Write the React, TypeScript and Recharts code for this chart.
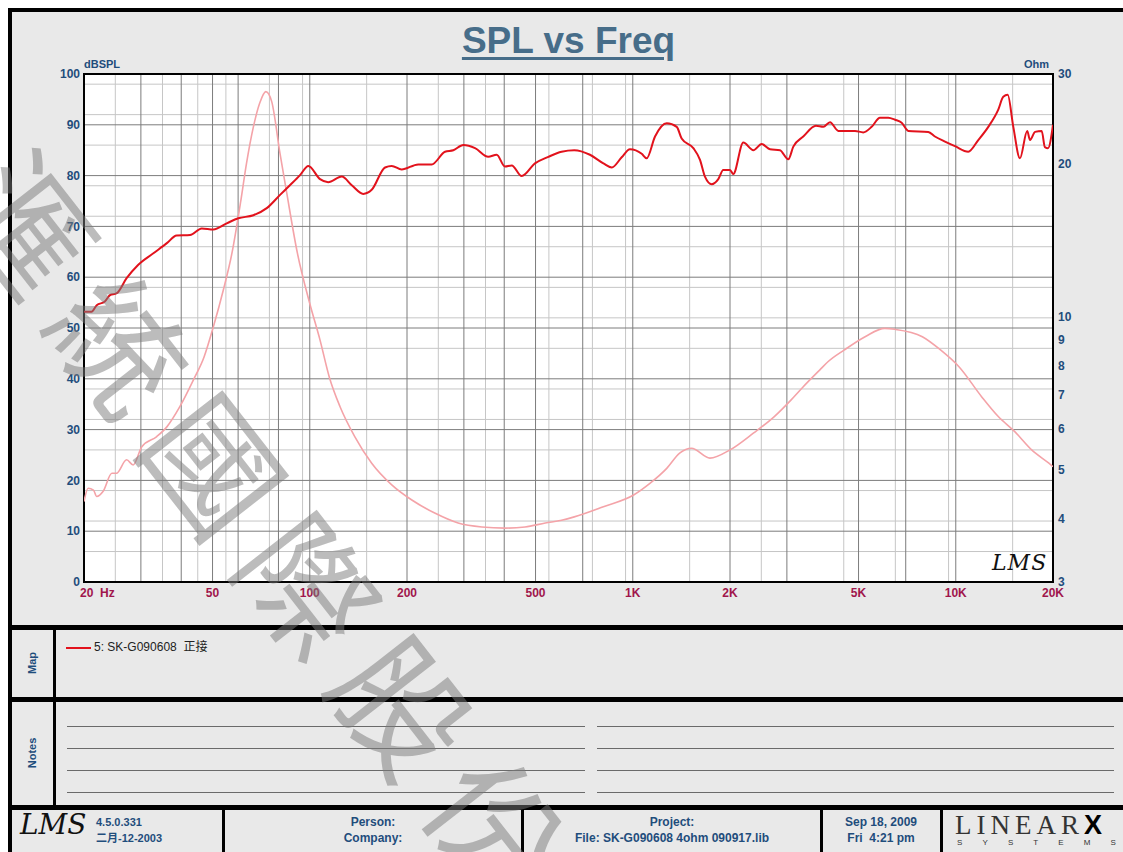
import React from "react";
import { LineChart, Line, XAxis, YAxis, CartesianGrid, ReferenceArea } from "recharts";

// SPL curve (dB)
const splFreq = [
  20, 21.1, 21.9, 23.2, 24.1, 25.2, 27.1, 29.4, 32.8, 36.1, 38.7, 42.6, 46.3, 50.3, 55.3, 60.1, 66.9, 73.6,
  80.9, 86.8, 93.3, 99, 107.6, 114, 125.6, 134.9, 146.4, 155.5, 171, 179.4, 192.5, 216.7, 238.5, 262.3,
  278.2, 298.8, 324.8, 357, 379, 402, 422, 453, 498, 548, 602, 659, 737, 811, 861, 924, 980, 1066, 1104,
  1172, 1274, 1368, 1417, 1540, 1615, 1673, 1756, 1840, 1906, 2000, 2047, 2199, 2362, 2507, 2660, 2856,
  3030, 3141, 3372, 3690, 3890, 4080, 4330, 4876, 5170, 5490, 5826, 6180, 6484, 6800, 7130, 8220, 8620,
  9260, 9940, 10930, 11740, 12610, 13540, 14030, 14480, 15070, 15800, 16640, 16980, 17600, 18450, 18880,
  19300, 20000,
];
const splDb = [
  53.2, 53.2, 54.5, 55.2, 56.5, 56.8, 59.8, 62.4, 64.7, 66.7, 68.2, 68.3, 69.6, 69.4, 70.6, 71.6, 72.2, 73.6,
  76.2, 78.1, 80.1, 81.9, 79.3, 78.7, 79.8, 78.1, 76.4, 77.2, 81.6, 81.9, 81.2, 82.2, 82.2, 84.7,
  85.0, 86.0, 85.4, 83.7, 84.1, 81.8, 82.0, 79.9, 82.4, 83.7, 84.7, 85.0, 84.1, 82.4, 81.6, 83.6, 85.2, 84.3, 83.4,
  87.7, 90.3, 89.6, 87.3, 85.4, 83.1, 79.8, 78.3, 79.3, 81.1, 81.1, 80.3, 86.5, 85.0, 86.2, 85.2, 85.0,
  83.2, 85.7, 87.7, 89.8, 89.6, 90.5, 88.8, 88.8, 88.5, 89.6, 91.4, 91.4, 91.0, 90.4, 88.8, 88.6, 87.7,
  86.7, 85.8, 84.7, 87.0, 89.6, 93.0, 95.5, 95.9, 89.6, 83.4, 88.8, 87.0, 88.6, 88.8, 85.6,
  85.4, 90.0,
];

// impedance curve (Ohm)
const zFreq = [
  20, 20.6, 21.4, 21.9, 22.9, 24.4, 25.2, 27.1, 28.4, 30.2, 33.6, 36.1, 39.6, 43.6, 47.1, 50.3, 54, 57.4,
  61, 63.7, 66.9, 70, 73.1, 76.2, 80.9, 84.6, 91.6, 100, 107.6, 114.9, 124.1, 137.8, 155.5, 179.4, 207,
  243.7, 288, 341, 402, 464, 536, 602, 659, 811, 1006, 1130, 1274, 1397, 1520, 1733, 2000, 2362, 2743,
  3093, 3372, 3790, 4020, 4520, 5240, 6030, 6484, 7880, 8970, 10230, 12020, 13540, 15230, 17180, 19420, 20000,
];
const zOhm = [
  4.32, 4.59, 4.55, 4.42, 4.52, 4.91, 4.91, 5.22, 5.1, 5.54, 5.8, 6.06, 6.64, 7.49, 8.33, 9.54, 11.27, 13.3,
  16.7, 20.0, 23.6, 26.3, 27.7, 26.5, 20.9, 17.7, 13.3, 10.6, 8.98, 7.6, 6.64, 5.8, 5.14, 4.66, 4.35,
  4.1, 3.92, 3.85, 3.83, 3.85, 3.92, 3.97, 4.03, 4.22, 4.45, 4.69, 5.02, 5.38, 5.5, 5.26, 5.46, 5.89, 6.35,
  6.85, 7.27, 7.84, 8.14, 8.59, 9.12, 9.47, 9.43, 9.12, 8.59, 7.96, 6.95, 6.35, 5.93, 5.46, 5.14, 5.06,
];

const freqTicks = [20, 50, 100, 200, 500, 1000, 2000, 5000, 10000, 20000];
const dbTicks = [0, 10, 20, 30, 40, 50, 60, 70, 80, 90, 100];
const ohmTicks = [3, 4, 5, 6, 7, 8, 9, 10, 20, 30];

const splData = splFreq.map((f, i) => ({ f, v: splDb[i] }));
const zData = zFreq.map((f, i) => ({ f, v: zOhm[i] }));

// log grid: whole multiples dark, half steps light
const majorV: number[] = [];
const minorV: number[] = [];
for (const d of [10, 100, 1000, 10000]) {
  for (let k = 1; k <= 9.5; k += 0.5) {
    const f = d * k;
    if (f <= 20 || f >= 20000) continue;
    (k % 1 === 0 ? majorV : minorV).push(f);
  }
}
const majorH: number[] = [];
const minorH: number[] = [];
for (let v = 2; v < 100; v += 2) (v % 10 === 0 ? majorH : minorH).push(v);

const BLUE = "#1f4d7c";
const MAROON = "#a0164c";
const SANS = "'Liberation Sans', Arial, 'Noto Sans CJK TC', sans-serif";

const fmtFreq = (v: number) => (v === 20 ? "20  Hz" : v >= 1000 ? `${v / 1000}K` : `${v}`);

const FreqTick = (props: any) => {
  const { x, y, payload } = props;
  const first = payload.value === 20;
  return (
    <text
      x={first ? x - 4 : x}
      y={y}
      dy="0.71em"
      textAnchor={first ? "start" : "middle"}
      fill={MAROON}
      fontSize={12}
      fontWeight="bold"
      fontFamily={SANS}
      style={{ whiteSpace: "pre" }}
    >
      {fmtFreq(payload.value)}
    </text>
  );
};

const abs = (l: number, t: number, w: number, h: number, extra: React.CSSProperties = {}): React.CSSProperties => ({
  position: "absolute",
  left: l,
  top: t,
  width: w,
  height: h,
  ...extra,
});

const Label = ({ x, y, children, align = "left", size = 12, color = BLUE, bold = true }: any) => (
  <div
    style={{
      position: "absolute",
      left: align === "center" ? x - 200 : x,
      top: y,
      width: align === "center" ? 400 : undefined,
      textAlign: align,
      fontSize: size,
      fontWeight: bold ? "bold" : "normal",
      color,
      fontFamily: SANS,
      whiteSpace: "pre",
      lineHeight: "14px",
    }}
  >
    {children}
  </div>
);

function SplChart() {
  return (
    <LineChart width={1123} height={625} margin={{ top: 74, left: 24, right: 20, bottom: 13 }}>
      <CartesianGrid
        yAxisId="left"
        fill="#ffffff"
        stroke="#c6c6c6"
        horizontalValues={minorH}
        verticalValues={minorV}
      />
      <CartesianGrid
        yAxisId="left"
        stroke="#7c7c7c"
        horizontalValues={majorH}
        verticalValues={majorV}
      />
      <XAxis
        dataKey="f"
        type="number"
        scale="log"
        domain={[20, 20000]}
        allowDataOverflow
        ticks={freqTicks}
        tick={<FreqTick />}
        tickLine={false}
        axisLine={false}
        tickSize={4}
        tickMargin={2}
        height={30}
      />
      <YAxis
        yAxisId="left"
        type="number"
        domain={[0, 100]}
        ticks={dbTicks}
        width={60}
        tickLine={false}
        axisLine={false}
        tickSize={2}
        tickMargin={2}
        tick={{ fill: BLUE, fontSize: 12, fontWeight: "bold", fontFamily: SANS }}
      />
      <YAxis
        yAxisId="right"
        orientation="right"
        type="number"
        scale="log"
        domain={[3, 30]}
        allowDataOverflow
        ticks={ohmTicks}
        width={50}
        tickLine={false}
        axisLine={false}
        tickSize={3}
        tickMargin={2}
        tick={{ fill: BLUE, fontSize: 12, fontWeight: "bold", fontFamily: SANS }}
      />
      <Line
        yAxisId="right"
        data={zData}
        dataKey="v"
        type="monotone"
        stroke="#f4a3a8"
        strokeWidth={1.6}
        dot={false}
        isAnimationActive={false}
      />
      <Line
        yAxisId="left"
        data={splData}
        dataKey="v"
        type="monotone"
        stroke="#e2121c"
        strokeWidth={2}
        dot={false}
        isAnimationActive={false}
      />
      <ReferenceArea
        yAxisId="left"
        x1={20}
        x2={20000}
        y1={0}
        y2={100}
        fill="none"
        fillOpacity={0}
        stroke="#000"
        strokeWidth={2}
      />
    </LineChart>
  );
}

const noteRows = [726, 748, 770, 792];

export default function App() {
  return (
    <div style={abs(0, 0, 1123, 852, { background: "#fff", overflow: "hidden", fontFamily: SANS })}>
      <div style={abs(8, 8, 1115, 844, { background: "#e9e9e9" })} />

      <div style={abs(0, 0, 1123, 625)}>
        <SplChart />
      </div>

      {/* title and axis captions */}
      <div
        style={{
          position: "absolute",
          left: 0,
          width: 1137,
          top: 20,
          textAlign: "center",
          fontSize: 37,
          fontWeight: "bold",
          color: "#476d89",
          textDecoration: "underline",
          textDecorationThickness: 3,
          textUnderlineOffset: 4,
          fontFamily: SANS,
        }}
      >
        SPL vs Freq
      </div>
      <Label x={84} y={57} size={11}>dBSPL</Label>
      <Label x={1024} y={57} size={11}>Ohm</Label>
      <div style={abs(992, 550, 60, 30, { fontFamily: "'DejaVu Serif', serif", fontStyle: "italic", fontSize: 22, color: "#111", letterSpacing: 1 })}>
        LMS
      </div>

      {/* frame bands */}
      <div style={abs(8, 8, 1115, 4, { background: "#000" })} />
      <div style={abs(8, 8, 4, 844, { background: "#000" })} />
      <div style={abs(8, 625, 1115, 5, { background: "#000" })} />
      <div style={abs(8, 697, 1115, 5, { background: "#000" })} />
      <div style={abs(8, 805, 1115, 5, { background: "#000" })} />
      <div style={abs(53, 630, 3, 175, { background: "#000" })} />
      {[222, 521, 820, 940].map((x) => (
        <div key={x} style={abs(x, 810, 3, 42, { background: "#000" })} />
      ))}

      {/* map panel */}
      <div style={abs(13, 656, 40, 14, { transform: "rotate(-90deg)", textAlign: "center", fontSize: 11, fontWeight: "bold", color: BLUE })}>
        Map
      </div>
      <div style={abs(66, 647, 25, 2, { background: "#e2121c" })} />
      <Label x={94} y={640} size={12} bold={false} color="#222">5: SK-G090608  正接</Label>

      {/* notes panel */}
      <div style={abs(8, 746, 50, 14, { transform: "rotate(-90deg)", textAlign: "center", fontSize: 11, fontWeight: "bold", color: BLUE })}>
        Notes
      </div>
      {noteRows.map((y) => (
        <React.Fragment key={y}>
          <div style={abs(67, y, 518, 1, { background: "#6a6a6a" })} />
          <div style={abs(597, y, 517, 1, { background: "#6a6a6a" })} />
        </React.Fragment>
      ))}

      {/* footer */}
      <div style={abs(20, 808, 70, 40, { fontFamily: "'DejaVu Serif', serif", fontStyle: "italic", fontSize: 28, color: "#111" })}>
        LMS
      </div>
      <Label x={96} y={815} size={11}>4.5.0.331</Label>
      <Label x={96} y={831} size={11}>二月-12-2003</Label>
      <Label x={373} y={815} align="center">Person:</Label>
      <Label x={373} y={831} align="center">Company:</Label>
      <Label x={672} y={815} align="center">Project:</Label>
      <Label x={672} y={831} align="center">File: SK-G090608 4ohm 090917.lib</Label>
      <Label x={881} y={815} align="center">Sep 18, 2009</Label>
      <Label x={881} y={831} align="center">Fri  4:21 pm</Label>
      <div style={abs(955, 810, 168, 30, { fontFamily: "'Liberation Serif', serif", fontSize: 27, letterSpacing: 5, color: "#333", lineHeight: "30px" })}>
        LINEAR<span style={{ fontFamily: SANS, fontWeight: 900, color: "#000" }}>X</span>
      </div>
      <div style={abs(957, 838, 165, 10, { fontSize: 8, color: "#333", display: "flex", justifyContent: "space-between", paddingRight: 6, boxSizing: "border-box" })}>
        {"SYSTEMS".split("").map((c, i) => (
          <span key={i}>{c}</span>
        ))}
      </div>

      {/* watermark */}
      <svg style={abs(0, 0, 1123, 852, { pointerEvents: "none" })} width={1123} height={852}>
        <text
          x={-54}
          y={204}
          transform="rotate(52 -54 204)"
          fontSize={130}
          letterSpacing={23}
          fill="#7a7a7a"
          fillOpacity={0.5}
          fontFamily="'Noto Sans CJK TC', 'Noto Sans CJK SC', sans-serif"
        >
          滙統國際股份
        </text>
      </svg>
    </div>
  );
}
